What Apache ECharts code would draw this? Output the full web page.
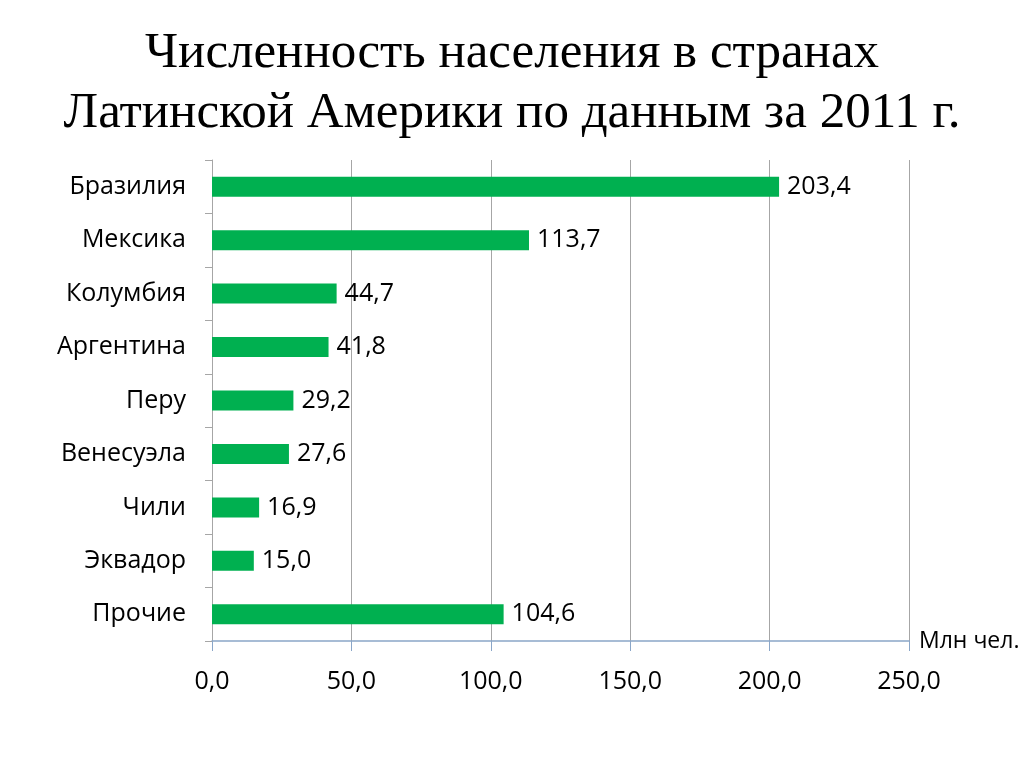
<!DOCTYPE html>
<html><head><meta charset="utf-8">
<script src="https://cdn.jsdelivr.net/npm/echarts@6/dist/echarts.min.js"></script>
<style>html,body{margin:0;padding:0;background:#fff}#c{width:1024px;height:767px}</style>
</head><body><div id="c"></div>
<script>
const categories = ['Бразилия','Мексика','Колумбия','Аргентина','Перу','Венесуэла','Чили','Эквадор','Прочие'];
const population = [203.4, 113.7, 44.7, 41.8, 29.2, 27.6, 16.9, 15.0, 104.6];
const titleLines = ['Численность населения в странах', 'Латинской Америки по данным за 2011 г.'];
const unitName = 'Млн чел.';
const fmt = v => Number(v).toFixed(1).replace('.', ',');
const FONT = 'Open Sans';
const chart = echarts.init(document.getElementById('c'));
chart.setOption({
  backgroundColor: '#fff',
  animation: false,
  title: {
    text: titleLines.join('\n'),
    left: 'center', top: 19,
    textStyle: {fontFamily: 'Liberation Serif', fontSize: 51, fontWeight: 'normal', color: '#000', lineHeight: 60}
  },
  grid: {left: 212, right: 115, top: 160, bottom: 126, containLabel: false},
  xAxis: {
    type: 'value', min: 0, max: 250, interval: 50,
    name: unitName, nameLocation: 'end', nameGap: 10,
    nameTextStyle: {fontFamily: FONT, fontSize: 23, color: '#000', verticalAlign: 'middle'},
    axisLine: {show: true, lineStyle: {color: '#8aa6c8', width: 1.5}},
    axisTick: {show: true, length: 10, lineStyle: {color: '#8aa6c8'}},
    axisLabel: {formatter: fmt, fontFamily: FONT, fontSize: 25, color: '#000', margin: 28},
    splitLine: {show: true, lineStyle: {color: '#a6a6a6', width: 1}}
  },
  yAxis: {
    type: 'category', data: categories, inverse: true,
    axisLine: {show: true, lineStyle: {color: '#a6a6a6', width: 1}},
    axisTick: {show: true, length: 7, lineStyle: {color: '#a6a6a6'}},
    axisLabel: {fontFamily: FONT, fontSize: 25, color: '#000', margin: 26}
  },
  series: [{
    type: 'bar', data: population, barWidth: 20,
    itemStyle: {color: '#00b050'},
    label: {show: true, position: 'right', distance: 8, formatter: p => fmt(p.value),
      fontFamily: FONT, fontSize: 25, color: '#000'}
  }]
});
</script></body></html>
